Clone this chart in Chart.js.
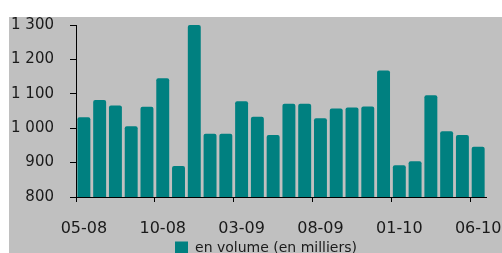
<!DOCTYPE html>
<html>
<head>
<meta charset="utf-8">
<script src="https://cdn.jsdelivr.net/npm/chart.js@4.4.1/dist/chart.umd.min.js"></script>
<style>
  html, body { margin: 0; padding: 0; background: #fff; overflow: hidden; width: 502px; height: 253px; }
  #bg { position: absolute; left: 9px; top: 17px; right: 0; bottom: 0; background: #c0c0c0; }
  #wrap { position: absolute; left: 9px; top: 0; width: 510px; height: 265px; }
</style>
</head>
<body>
<div id="bg"></div>
<div id="wrap"><canvas id="volChart"></canvas></div>
<script>
// monthly volumes, in thousands
const months = ['05-08', '06-08', '07-08', '08-08', '09-08', '10-08', '11-08', '12-08',
                '01-09', '02-09', '03-09', '04-09', '05-09', '06-09', '07-09', '08-09',
                '09-09', '10-09', '11-09', '12-09', '01-10', '02-10', '03-10', '04-10',
                '05-10', '06-10'];
const volumes = [1032, 1082, 1066, 1006, 1062, 1145, 890, 1300, 984, 984, 1078, 1033, 980,
                 1071, 1071, 1029, 1057, 1060, 1063, 1168, 892, 904, 1096, 991, 980, 946];
const yTicks = [800, 900, 1000, 1100, 1200, 1300];
const yTickLabels = ['800', '900', '1 000', '1 100', '1 200', '1 300'];
const seriesName = 'en volume (en milliers)';

const txt = '#1a1a1a';

// the original legend sits a bit right of the canvas centre
const legendShift = {
    id: 'legendShift',
    afterLayout(chart) {
        chart.legend.left += 17;
        chart.legend.right += 17;
    }
};

new Chart(document.getElementById('volChart'), {
    type: 'bar',
    data: {
        labels: months,
        datasets: [{
            label: seriesName,
            data: volumes,
            backgroundColor: '#008080',
            borderRadius: { topLeft: 2, topRight: 2 },
            borderSkipped: 'bottom',
            categoryPercentage: 1,
            barPercentage: 0.82
        }]
    },
    plugins: [legendShift],
    options: {
        responsive: true,
        maintainAspectRatio: false,
        animation: false,
        layout: { padding: { top: 0, right: 30, left: 0, bottom: 0 } },
        plugins: {
            tooltip: { enabled: false },
            legend: {
                position: 'bottom',
                labels: {
                    boxWidth: 13,
                    boxHeight: 13,
                    padding: 4,
                    color: txt,
                    font: { family: 'DejaVu Sans', size: 14 }
                }
            }
        },
        scales: {
            x: {
                afterFit: (s) => { s.height = 40; },
                grid: {
                    drawOnChartArea: false,
                    tickLength: 5,
                    tickColor: (c) => (c.index !== undefined && c.index % 5 === 0) ? '#000' : 'rgba(0,0,0,0)'
                },
                border: { display: true, color: '#000', width: 1 },
                ticks: {
                    autoSkip: false,
                    maxRotation: 0,
                    padding: 17,
                    color: txt,
                    font: { family: 'DejaVu Sans', size: 16 },
                    callback: (v, i) => i % 5 === 0 ? months[i] : ''
                }
            },
            y: {
                min: 800,
                max: 1300,
                afterBuildTicks: (s) => { s.ticks = yTicks.map(v => ({ value: v })); },
                afterFit: (s) => { s.width = 67; },
                grid: { drawOnChartArea: false, tickLength: 6, color: '#000' },
                border: { display: true, color: '#000', width: 1 },
                ticks: {
                    padding: 16,
                    color: txt,
                    font: { family: 'DejaVu Sans', size: 15 },
                    callback: (v) => yTickLabels[yTicks.indexOf(v)]
                }
            }
        }
    }
});
</script>
</body>
</html>
